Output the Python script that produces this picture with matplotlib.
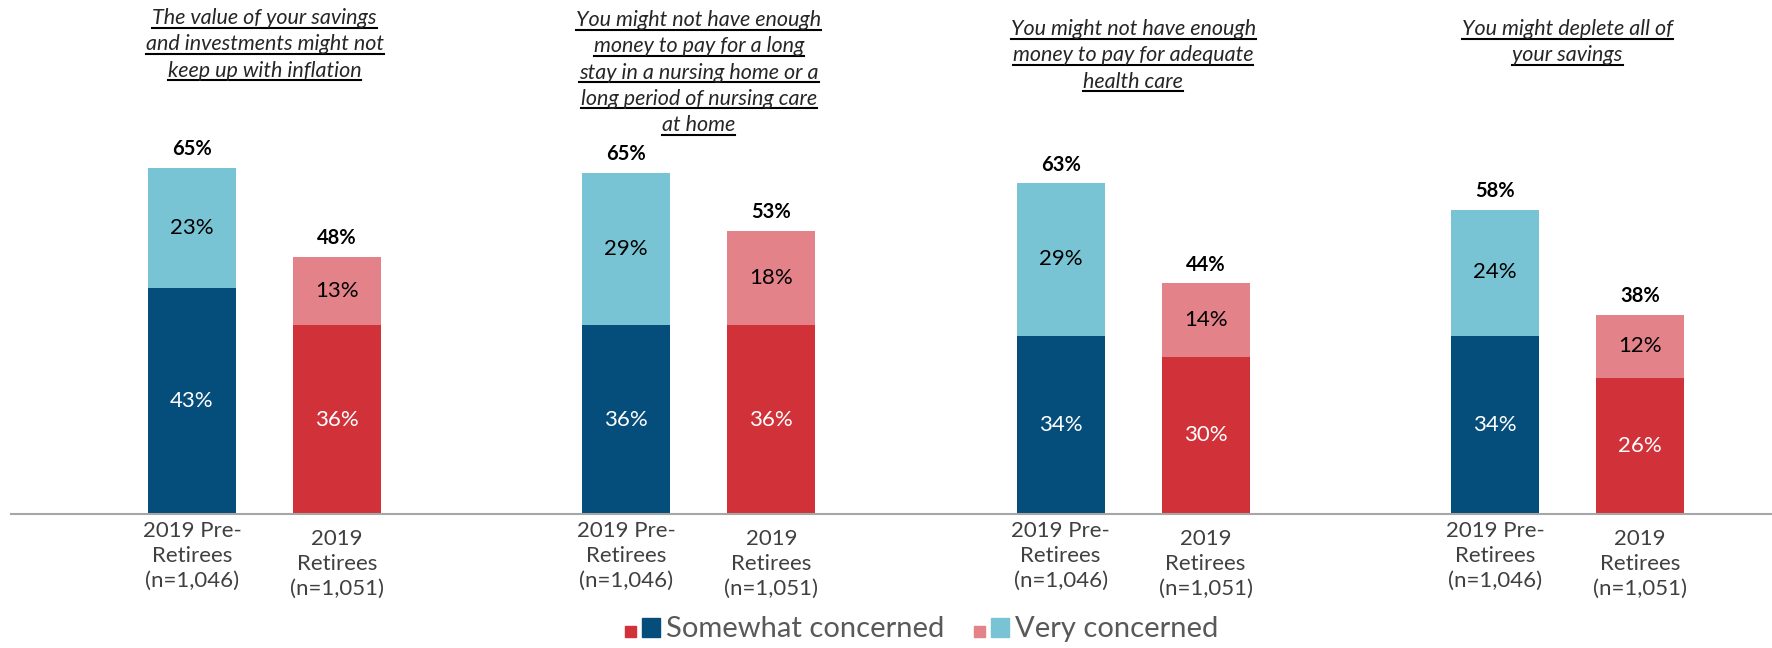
import matplotlib
matplotlib.use("Agg")
import matplotlib.pyplot as plt
from matplotlib.patches import Rectangle
from matplotlib.lines import Line2D
import numpy as np

plt.rcParams["font.family"] = ["Lato", "DejaVu Sans"]

# ── Data
titles = [
    ["The value of your savings", "and investments might not", "keep up with inflation"],
    ["You might not have enough", "money to pay for a long", "stay in a nursing home or a",
     "long period of nursing care", "at home"],
    ["You might not have enough", "money to pay for adequate", "health care"],
    ["You might deplete all of", "your savings"],
]
pre_somewhat = [43, 36, 34, 34]
pre_very = [23, 29, 29, 24]
pre_total = [65, 65, 63, 58]
ret_somewhat = [36, 36, 30, 26]
ret_very = [13, 18, 14, 12]
ret_total = [48, 53, 44, 38]
pre_label = "2019 Pre-\nRetirees\n(n=1,046)"
ret_label = "2019\nRetirees\n(n=1,051)"

DARK_BLUE = "#054D7B"
LIGHT_BLUE = "#79C4D4"
RED = "#D13239"
PINK = "#E38289"

W, H = 1772, 648
fig = plt.figure(figsize=(W / 100, H / 100), dpi=100)
base_px = 514
ax = fig.add_axes([11 / W, (H - base_px) / H, (W - 11) / W, base_px / H])

x = np.arange(len(pre_total))
off, bw = 0.167, 0.203

ax.bar(x - off, pre_somewhat, bw, color=DARK_BLUE)
ax.bar(x - off, pre_very, bw, bottom=pre_somewhat, color=LIGHT_BLUE)
ax.bar(x + off, ret_somewhat, bw, color=RED)
ax.bar(x + off, ret_very, bw, bottom=ret_somewhat, color=PINK)

ax.set_xlim(-0.5837, 3.471)
ax.set_ylim(0, base_px / 5.25)

for s in ["top", "left", "right"]:
    ax.spines[s].set_visible(False)
ax.spines["bottom"].set_color("#A6A6A6")
ax.spines["bottom"].set_linewidth(1.5)
ax.set_yticks([])
ax.set_xticks([])

# segment labels
for i in x:
    for xpos, lo, hi, tot in [
        (i - off, pre_somewhat[i], pre_very[i], pre_total[i]),
        (i + off, ret_somewhat[i], ret_very[i], ret_total[i]),
    ]:
        ax.text(xpos, lo / 2, f"{lo}%", ha="center", va="center",
                color="white", fontsize=16)
        ax.text(xpos, lo + hi / 2, f"{hi}%", ha="center", va="center",
                color="black", fontsize=16)
        ax.annotate(f"{tot}%", (xpos, lo + hi), xytext=(0, 6),
                    textcoords="offset points", ha="center", va="bottom",
                    fontsize=14.5, fontweight="bold", color="black")

# category labels under the axis
for i in x:
    ax.annotate(pre_label, (i - off, 0), xycoords=("data", "axes fraction"),
                xytext=(0, -5), textcoords="offset points", ha="center", va="top",
                fontsize=16, color="#404040", linespacing=1.3)
    ax.annotate(ret_label, (i + off, 0), xycoords=("data", "axes fraction"),
                xytext=(0, -11), textcoords="offset points", ha="center", va="top",
                fontsize=16, color="#404040", linespacing=1.3)

# titles (italic, underlined line by line)
title_top = [17, 19, 28, 28]
line_gap = 26.3
title_texts = []
for i, lines in enumerate(titles):
    cx = ax.transData.transform((i, 0))[0]
    for j, line in enumerate(lines):
        y_base = H - (title_top[i] + 7 + j * line_gap)
        t = fig.text(cx / W, y_base / H, line, ha="center", va="baseline",
                     fontsize=15.5, style="italic", color="#262626")
        title_texts.append((t, y_base))

fig.canvas.draw()
renderer = fig.canvas.get_renderer()
for t, y_base in title_texts:
    bb = t.get_window_extent(renderer)
    yy = (y_base - 3.5) / H
    fig.add_artist(Line2D([bb.x0 / W, bb.x1 / W], [yy, yy], color="black",
                          linewidth=1.5, transform=fig.transFigure))

# legend
def legend_item(x0, small_col, big_col, label):
    bottom = H - 637
    fig.add_artist(Rectangle((x0 / W, bottom / H), 11 / W, 11 / H,
                             color=small_col, transform=fig.transFigure))
    fig.add_artist(Rectangle(((x0 + 17) / W, bottom / H), 18 / W, 19 / H,
                             color=big_col, transform=fig.transFigure))
    fig.text((x0 + 41) / W, (H - 629) / H, label, ha="left", va="center",
             fontsize=21, color="#595959")

legend_item(625, RED, DARK_BLUE, "Somewhat concerned")
legend_item(974, PINK, LIGHT_BLUE, "Very concerned")

fig.savefig("out.png", dpi=100)
